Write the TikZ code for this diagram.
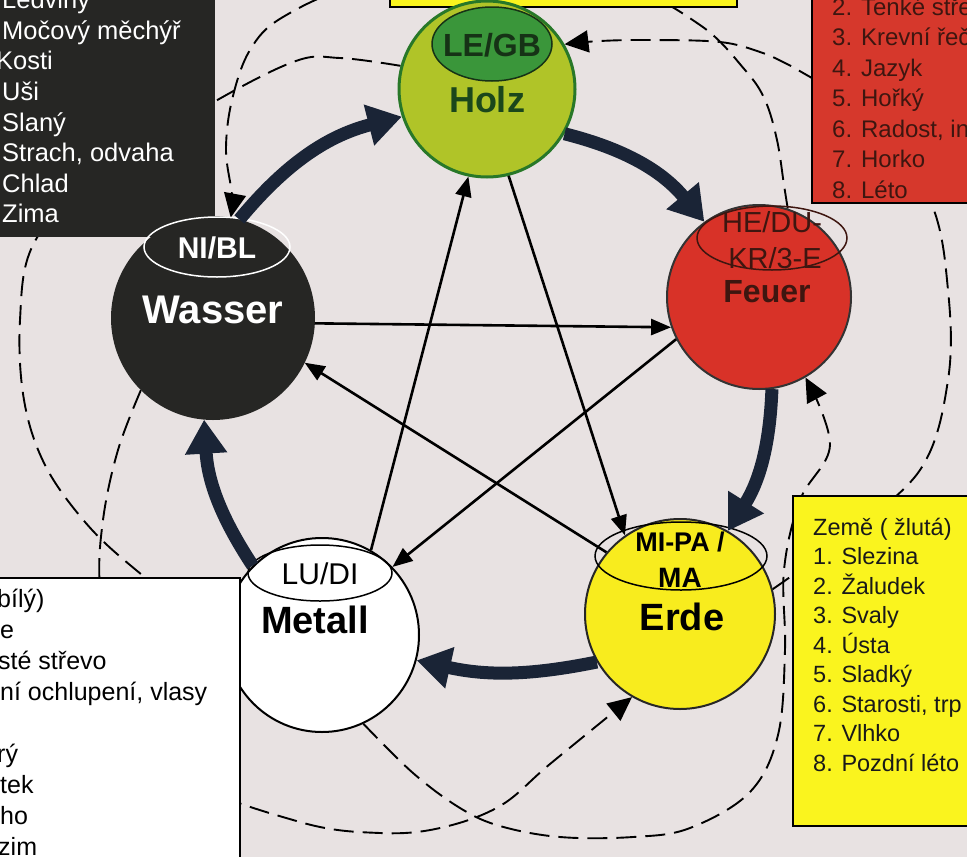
\documentclass[tikz,border=0pt]{standalone}
\usepackage{fontspec}
\setmainfont{Liberation Sans}
\usetikzlibrary{arrows.meta,shapes.geometric}
\pgfdeclarelayer{back}
\pgfsetlayers{back,main}
\definecolor{bg}{RGB}{232,226,226}
\definecolor{boxblack}{RGB}{38,38,36}
\definecolor{boxred}{RGB}{214,56,44}
\definecolor{redtext}{RGB}{62,22,16}
\definecolor{boxyellow}{RGB}{250,244,30}
\definecolor{woodfill}{RGB}{176,196,40}
\definecolor{woodrim}{RGB}{40,120,40}
\definecolor{woodell}{RGB}{58,150,58}
\definecolor{woodtext}{RGB}{22,50,22}
\definecolor{navy}{RGB}{26,36,54}
\definecolor{firefill}{RGB}{216,50,40}
\definecolor{earthfill}{RGB}{248,236,30}
\begin{document}
\begin{tikzpicture}[x=1pt,y=-1pt,
  elem/.style={circle, inner sep=0pt, line width=2pt},
  lab/.style={ellipse, inner sep=0pt, line width=1.5pt},
  thickarr/.style={draw=navy, line width=13pt, -{Triangle[length=34pt,width=40pt]}},
  stararr/.style={draw=black, line width=2.6pt, -{Triangle[length=20pt,width=16pt]}},
  dasharr/.style={draw=black, line width=1.9pt, dash pattern=on 20pt off 9pt, -{Triangle[length=24pt,width=22pt]}},
  boxtxt/.style={anchor=base west, inner sep=0pt}]
\useasboundingbox (0,0) rectangle (967,857);

% element circles
\node[elem, fill=woodfill, draw=woodrim, line width=3pt, minimum size=176pt] (holz) at (487,89) {};
\node[elem, fill=firefill, draw=black!80, minimum size=184pt] (feuer) at (759,297) {};
\node[elem, fill=boxblack, draw=boxblack, minimum size=202pt] (wasser) at (213,318) {};
\node[elem, fill=white, draw=black, minimum size=194pt] (metall) at (322,635) {};
\node[elem, fill=earthfill, draw=black!85, minimum size=190pt] (erde) at (680,614) {};

% ellipses and labels
\node[lab, fill=woodell, draw=woodtext, minimum width=120pt, minimum height=74pt] (holzell) at (492,44) {};
\node[font=\bfseries\fontsize{32}{34}\selectfont, text=woodtext] (holzlab) at (492,45) {LE/GB};
\node[font=\bfseries\fontsize{36}{38}\selectfont, text=woodtext!70!woodrim] (holztxt) at (487,100) {Holz};

\node[lab, draw=redtext, minimum width=150pt, minimum height=64pt] (feuerell) at (772,238) {};
\node[font=\fontsize{29}{34}\selectfont, text=redtext] (feuerlab1) at (772,222) {HE/DU-};
\node[font=\fontsize{29}{34}\selectfont, text=redtext] (feuerlab2) at (775,258) {KR/3-E};
\node[font=\bfseries\fontsize{32}{34}\selectfont, text=redtext] (feuertxt) at (767,292) {Feuer};

\node[lab, draw=white, minimum width=146pt, minimum height=60pt] (wasserell) at (217,247) {};
\node[font=\bfseries\fontsize{30}{32}\selectfont, text=white] (wasserlab) at (217,248) {NI/BL};
\node[font=\bfseries\fontsize{40}{42}\selectfont, text=white] (wassertxt) at (213,310) {Wasser};

\node[lab, draw=black, minimum width=144pt, minimum height=56pt] (metallell) at (320,573) {};
\node[font=\fontsize{30}{32}\selectfont] (metalllab) at (320,574) {LU/DI};
\node[font=\bfseries\fontsize{38}{40}\selectfont] (metalltxt) at (315,620) {Metall};

\node[lab, draw=black, minimum width=172pt, minimum height=68pt] (erdeell) at (681,556) {};
\node[font=\bfseries\fontsize{27}{30}\selectfont] (erdelab1) at (680,542) {MI-PA /};
\node[font=\bfseries\fontsize{28}{30}\selectfont] (erdelab2) at (680,578) {MA};
\node[font=\bfseries\fontsize{38}{40}\selectfont] (erdetxt) at (682,617) {Erde};

% star (controlling) arrows
\draw[stararr] (wasser.-3) -- (feuer.199);
\draw[stararr] (feuer.207) -- (metall.44);
\draw[stararr] (metall.60) -- (holz.258);
\draw[stararr] (holz.-76) -- (erde.125);
\draw[stararr] (erde.140) -- (wasser.-26);

% generating cycle thick arrows
\draw[thickarr] (wasser.75) to[bend left=18] (holz.198);
\draw[thickarr] (holz.-30) to[bend left=18] (feuer.126);
\draw[thickarr] (feuer.-82) to[bend left=15] (erde.60);
\draw[thickarr] (erde.210) to[bend left=12] (metall.-15);
\draw[thickarr] (metall.135) to[bend left=15] (wasser.-95);

% white and yellow boxes (in front)
\draw[fill=white, line width=2pt] (-5,578) rectangle (240,870);
\draw[fill=boxyellow, line width=1.5pt] (793,496) rectangle (975,826);

% back layer: background, dashed arcs, black/red boxes
\begin{pgfonlayer}{back}
\clip (0,0) rectangle (967,857);
\fill[bg] (0,0) rectangle (967,857);
\draw[dasharr] plot[smooth, tension=0.6] coordinates {(holz.165) (340,58) (293,62) (200,110) (90,180) (33,245) (20,320) (24,400) (45,465) (85,522) (130,565) (190,610) (metall.170)};
\draw[dasharr] plot[smooth, tension=0.6] coordinates {(wasser.225) (118,450) (103,520) (100,590) (115,690) (180,775) (300,822) (380,833) (440,828) (500,806) (550,764) (erde.240)};
\draw[dasharr] plot[smooth, tension=0.6] coordinates {(metall.-65) (413,773) (460,808) (500,826) (560,837) (633,837) (690,828) (750,792) (778,735) (785,650) (784,570) (800,500) (830,445) (feuer.-60)};
\draw[dasharr] plot[smooth, tension=0.6] coordinates {(erde.15) (840,540) (920,470) (948,380) (948,290) (930,200) (870,110) (812,78) (787,64) (760,52) (720,42) (650,40) (600,41) (holz.30)};
\draw[dasharr] plot[smooth, tension=0.6] coordinates {(feuer.72) (784,185) (777,140) (765,100) (745,70) (700,25) (620,-15) (487,-30) (360,-15) (283,17) (250,50) (232,100) (226,150) (232,195) (wasser.80)};
\fill[boxblack] (-5,-5) rectangle (215,237);
\draw[fill=boxred, line width=2pt] (812,-5) rectangle (975,203);
\draw[fill=boxyellow, line width=1.5pt] (390,-10) rectangle (737,7);
\end{pgfonlayer}

% black box text (Wasser)
\foreach \t/\xx [count=\i from 0] in {Ledviny/2, Močový měchýř/2, Kosti/-4, Uši/2, Slaný/2, {Strach, odvaha}/2, Chlad/2, Zima/2}
  \node[boxtxt, text=white, font=\fontsize{25.5}{30}\selectfont] (bt\i) at (\xx, {-0.6+30.6*\i+9.2}) {\t};

% red box text (Feuer)
\foreach \t [count=\i from 0] in {2. Tenké stře, 3. Krevní řeč, 4. Jazyk, 5. Hořký, {6. Radost, in}, 7. Horko, 8. Léto}
  \node[boxtxt, text=redtext, font=\fontsize{24}{28}\selectfont] (rt\i) at (832, {6.7+30.5*\i+8.6}) {\t};

% yellow box text (Erde)
\foreach \t [count=\i from 0] in {Země ( žlutá), 1. Slezina, 2. Žaludek, 3. Svaly, 4. Ústa, 5. Sladký, {6. Starosti, trp}, 7. Vlhko, 8. Pozdní léto}
  \node[boxtxt, text=black!90, font=\fontsize{23.5}{28}\selectfont] (yt\i) at (813, {527+29.5*\i+8.4}) {\t};

% white box text (Metall)
\foreach \t/\xx/\k in {bílý)/-3/0, e/0/1, sté střevo/-2/2, {ní ochlupení, vlasy}/0/3, rý/-3/5, tek/0/6, ho/0/7, zim/-2/8}
  \node[boxtxt, text=black, font=\fontsize{25}{28}\selectfont] (wt\k) at (\xx, {598+31*\k+9}) {\t};
\end{tikzpicture}
\end{document}
